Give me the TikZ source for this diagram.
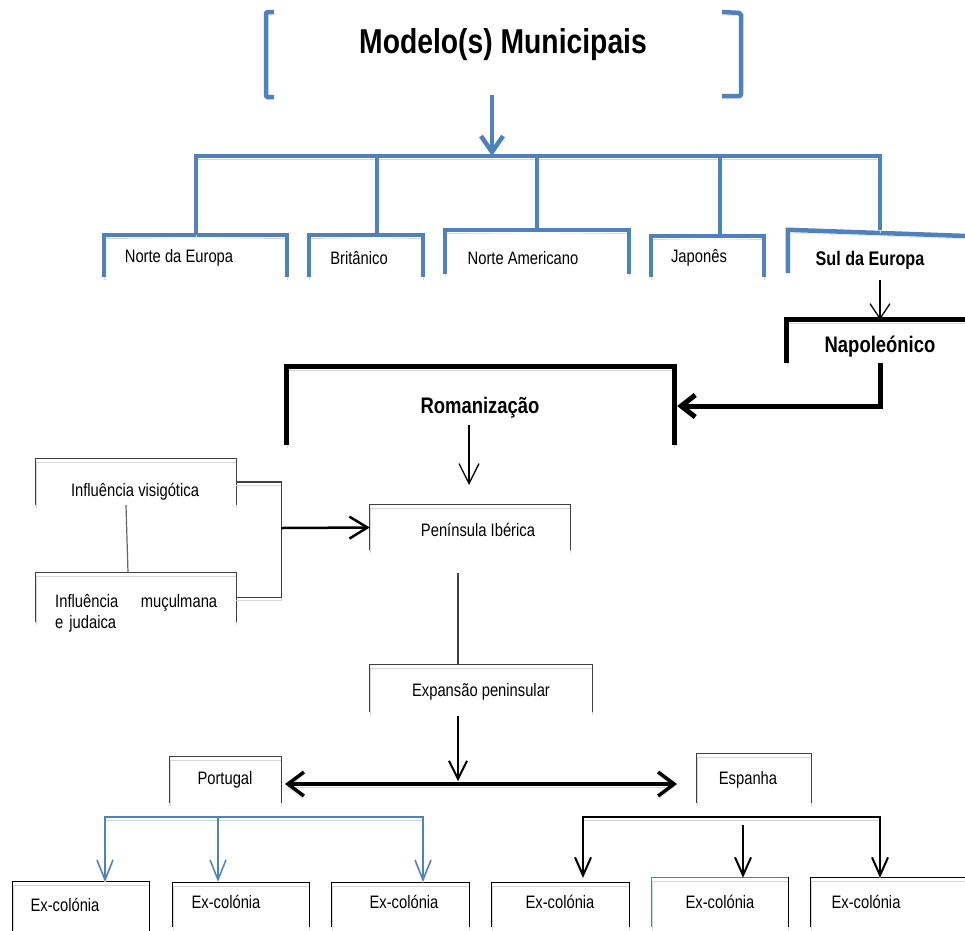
\documentclass[tikz,border=0pt]{standalone}
\usepackage{fontspec}
\setmainfont[FakeStretch=0.82]{Liberation Sans}
\usetikzlibrary{arrows.meta}

\definecolor{azul}{HTML}{4F81BD}
\definecolor{sombra}{HTML}{D6D6D6}

\tikzset{
  txt/.style={font=\fontsize{18}{21}\selectfont, inner sep=0pt},
  negrito/.style={font=\fontsize{#1}{#1}\selectfont\bfseries, inner sep=0pt},
  caixa/.style 2 args={inner sep=0pt, minimum width=#1, minimum height=#2},
  sombreado/.style={preaction={draw=sombra, transform canvas={yshift=-3pt}}},
  azulgrossa/.style={draw=azul, line width=4.5pt},
  preta/.style={draw=black, line width=5pt},
  fina/.style={draw=black!75, line width=1.2pt},
  seta/.style 2 args={-{Straight Barb[length=#1pt,width=#2pt]}},
}

\begin{document}
\begin{tikzpicture}[x=1pt, y=-1pt]

\useasboundingbox (0,0) rectangle (965,930);
\fill[white] (0,0) rectangle (965,930);
\clip (0,0) rectangle (965,930);

% Titulo entre parenteses retos
\draw[azulgrossa, sombreado, rounded corners=2pt] (274,12) -- (266,12) -- (266,97) -- (274,97);
\draw[azulgrossa, sombreado, rounded corners=2pt] (722,12) -- (741,13) -- (741,96) -- (722,96);
\node[negrito=34.5] (titulo) at (503,45) {Modelo(s) Municipais};

% Modelos
\node[caixa={183}{42}] (bnor) at (195.5,256) {};
\node[caixa={114}{42}] (bbri) at (366,256) {};
\node[caixa={184}{44}] (bnam) at (537,252) {};
\node[caixa={113}{41}] (bjap) at (707.5,256.5) {};
\node[caixa={202}{43}] (bsul) at (889,251.5) {};

\foreach \c in {bnor,bbri,bnam,bjap}
  \draw[azulgrossa, sombreado] (\c.south west) |- (\c.north) -| (\c.south east);
\draw[azulgrossa, sombreado] (bsul.south west) -- (bsul.north west) -- ([yshift=-7pt]bsul.north east);

\node[txt] (tnor) at (179,258) {Norte da Europa};
\node[txt] (tbri) at (359,258) {Britânico};
\node[txt] (tnam) at (523,258) {Norte Americano};
\node[txt] (tjap) at (699,258) {Japonês};
\node[negrito=19.7] (tsul) at (870,260) {Sul da Europa};

\coordinate (topo) at (492,95);
\coordinate (barra) at (492,156);
\coordinate (b1) at (196,156);
\coordinate (b2) at (377,156);
\coordinate (b3) at (537,156);
\coordinate (b4) at (720,156);
\coordinate (b5) at (880,156);
\draw[azulgrossa, seta={16}{22}] (topo) -- (barra);
\draw[azulgrossa, sombreado] (b1 |- bnor.north) -- (b1) -- (b5) -- (b5 |- bsul.north);
\foreach \b/\c in {b2/bbri,b3/bnam,b4/bjap}
  \draw[azulgrossa] (\b) -- (\b |- \c.north);

% Napoleonico e Romanizacao
\node[caixa={203}{43}] (bnap) at (888.5,341.5) {};
\node[caixa={387}{78}] (brom) at (480.5,406) {};
\draw[preta, sombreado] (bnap.south west) |- (bnap.north east);
\draw[preta, sombreado] (brom.south west) |- (brom.north) -| (brom.south east);
\node[negrito=22.5] (tnap) at (880,347) {Napoleónico};
\node[negrito=22.5] (trom) at (480,408) {Romanização};

\coordinate (s1) at (880,280);
\coordinate (s2) at (880,363);
\draw[line width=1.3pt, seta={15}{20}] (s1) -- (s1 |- bnap.north);
\draw[preta, seta={14}{22}] (s2) |- ([xshift=3pt]brom.east);

\coordinate (r1) at (469,425);
\coordinate (r2) at (469,485);
\draw[line width=1.3pt, seta={20}{20}] (r1) -- (r2);

% Peninsula
\node[caixa={200}{46}] (bvis) at (136,482) {};
\node[caixa={200}{49}] (bmuc) at (136,597.5) {};
\node[caixa={200}{45}] (bpen) at (470,527.5) {};
\node[caixa={222}{47}] (bexp) at (481,688.5) {};
\node[caixa={111}{46}] (bpor) at (225.5,780) {};
\node[caixa={114}{49}] (besp) at (754,778.5) {};

\foreach \c in {bvis,bmuc,bpen,bexp,bpor,besp}
  \draw[fina, sombreado] (\c.south west) |- (\c.north) -| (\c.south east);

\node[txt] (tvis) at (135,492) {Influência visigótica};
\node[txt, text width=162pt, align=left, anchor=north west] (tmuc) at (55,594) {Influência\hfill muçulmana\\e judaica};
\node[txt] (tpen) at (478,530) {Península Ibérica};
\node[txt] (texp) at (481,692) {Expansão peninsular};
\node[txt] (tpor) at (225,780) {Portugal};
\node[txt] (tesp) at (748,780) {Espanha};

\draw[fina, black!60] ([xshift=-10pt]bvis.south) -- ([xshift=-8pt]bmuc.north);
\draw[fina, sombreado] (bvis.east) -- ++(45,0) |- (bmuc.east);
\coordinate (j1) at (281,528);
\draw[line width=2.5pt, seta={18}{22}] (j1) -- (bpen.west);

\coordinate (p1) at (458,573);
\draw[fina] (p1) -- (p1 |- bexp.north);

\coordinate (e1) at (458,716);
\coordinate (e2) at (458,781);
\draw[line width=2pt, seta={18}{18}] (e1) -- (e2);

\coordinate (d1) at (285,784);
\coordinate (d2) at (677,784);
\draw[line width=3.5pt, sombreado, {Straight Barb[length=16pt,width=24pt]}-{Straight Barb[length=16pt,width=24pt]}] (d1) -- (d2);

% Ex-colonias
\node[caixa={136}{63}] (bex1) at (81,913.5) {};
\node[caixa={136}{44}] (bex2) at (241,905) {};
\node[caixa={137}{44}] (bex3) at (400.5,905) {};
\node[caixa={137}{44}] (bex4) at (560.5,905) {};
\node[caixa={136}{49}] (bex5) at (720,902.5) {};
\node[caixa={179}{49}] (bex6) at (900.5,902.5) {};

\foreach \c in {bex1,bex2,bex3,bex4,bex5,bex6}
  \draw[line width=1.3pt, sombreado] (\c.south west) |- (\c.north) -| (\c.south east);
\draw[azul, line width=1.3pt] (bex5.south west) |- (bex5.north east);

\node[txt] (tex1) at (65,905) {Ex-colónia};
\node[txt] (tex2) at (226,902) {Ex-colónia};
\node[txt] (tex3) at (404,902) {Ex-colónia};
\node[txt] (tex4) at (560,902) {Ex-colónia};
\node[txt] (tex5) at (720,902) {Ex-colónia};
\node[txt] (tex6) at (866,902) {Ex-colónia};

\coordinate (pa) at (105,817);
\coordinate (pm) at (218,817);
\coordinate (pc) at (423,817);
\draw[azul, line width=1.5pt, sombreado, {Straight Barb[length=20pt,width=16pt]}-{Straight Barb[length=20pt,width=16pt]}] (pa |- bex1.north) -- (pa) -- (pc) -- (pc |- bex1.north);
\draw[azul, line width=1.5pt, seta={20}{16}] (pm) -- (pm |- bex1.north);

\coordinate (ea) at (583,817);
\coordinate (ec) at (880,817);
\coordinate (em) at (743,825);
\draw[line width=2pt, sombreado, {Straight Barb[length=18pt,width=16pt]}-{Straight Barb[length=18pt,width=16pt]}] (ea |- bex5.north) -- (ea) -- (ec) -- (ec |- bex5.north);
\draw[line width=2pt, seta={18}{16}] (em) -- (em |- bex5.north);

\end{tikzpicture}
\end{document}
